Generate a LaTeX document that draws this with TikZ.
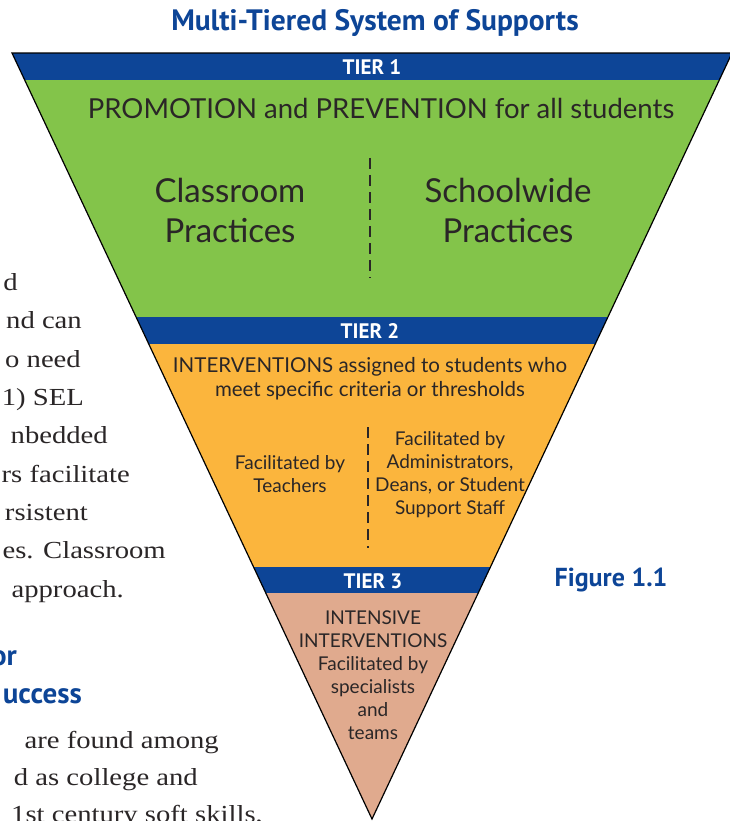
\documentclass[tikz,border=0pt]{standalone}
\usepackage{fontspec}
\newfontfamily\latof{Lato}
\newfontfamily\titlef{PT Sans}
\newfontfamily\bodyf[FakeStretch=1.17]{Liberation Serif}
\definecolor{tblue}{HTML}{0D4597}
\definecolor{tgreen}{HTML}{83C44A}
\definecolor{torange}{HTML}{FBB53D}
\definecolor{tsalmon}{HTML}{E0AA8E}
\definecolor{ttext}{HTML}{2A2627}
\begin{document}
\begin{tikzpicture}[x=1pt,y=-1pt,
  tierlab/.style={text=white,font=\titlef\bfseries\fontsize{21}{21}\selectfont,inner sep=0pt},
  intext/.style={text=ttext,align=center,inner sep=0pt},
  divider/.style={line width=1.4pt,ttext,dash pattern=on 11pt off 6pt},
  bodytxt/.style={text=ttext,font=\bodyf\fontsize{24.5}{24.5}\selectfont,anchor=base east,inner sep=0pt},
  headtxt/.style={text=tblue,font=\titlef\bfseries\fontsize{29}{29}\selectfont,anchor=base east,inner sep=0pt}]
\useasboundingbox (0,0) rectangle (730,821);
\coordinate (TL) at (12,53);
\coordinate (TR) at (732,53);
\coordinate (AP) at (372,819);
\begin{scope}
\clip (TL) -- (TR) -- (AP) -- cycle;
\fill[tblue] (0,53) rectangle (740,80);
\fill[tgreen] (0,80) rectangle (740,317);
\fill[tblue] (0,317) rectangle (740,344);
\fill[torange] (0,344) rectangle (740,567);
\fill[tblue] (0,567) rectangle (740,593);
\fill[tsalmon] (0,593) rectangle (740,821);
\end{scope}
\draw[line width=1.2pt,line join=miter] (TL) -- (TR) -- (AP) -- cycle;

\node[text=tblue,font=\titlef\bfseries\fontsize{29.5}{29.5}\selectfont,inner sep=0pt] (title) at (375,23) {Multi-Tiered System of Supports};

\node[tierlab] (t1) at (372,67) {TIER 1};
\node[tierlab] (t2) at (370,331) {TIER 2};
\node[tierlab] (t3) at (373,581) {TIER 3};

\node[intext,font=\latof\fontsize{27.5}{30}\selectfont] (promo) at (381,108) {PROMOTION and PREVENTION for all students};
\node[intext,font=\latof\fontsize{33}{40}\selectfont] (class) at (230,210) {Classroom\\Practices};
\node[intext,font=\latof\fontsize{33}{40}\selectfont] (school) at (508,210) {Schoolwide\\Practices};
\coordinate (d1a) at (370,158);
\coordinate (d1b) at (370,278);
\draw[divider] (d1a) -- (d1b);

\node[intext,font=\latof\fontsize{20.5}{24}\selectfont] (interv) at (370,379) {INTERVENTIONS assigned to students who\\meet specific criteria or thresholds};
\node[intext,font=\latof\fontsize{19}{23}\selectfont] (teach) at (290,474.5) {Facilitated by\\Teachers};
\node[intext,font=\latof\fontsize{19}{23}\selectfont] (admin) at (450,474.5) {Facilitated by\\Administrators,\\Deans, or Student\\Support Staff};
\coordinate (d2a) at (368,427);
\coordinate (d2b) at (368,548);
\draw[divider] (d2a) -- (d2b);

\node[intext,font=\latof\fontsize{19}{23}\selectfont] (intens) at (373,675) {INTENSIVE\\INTERVENTIONS\\Facilitated by\\specialists\\and\\teams};

\node[text=tblue,font=\titlef\bfseries\fontsize{26}{26}\selectfont,inner sep=0pt] (fig) at (611,580) {Figure 1.1};

\node[bodytxt] (b1) at (18,290) {d};
\node[bodytxt] (b2) at (82,328.5) {nd can};
\node[bodytxt] (b3) at (81,367) {o need};
\node[bodytxt] (b4) at (84,405) {1) SEL};
\node[bodytxt] (b5) at (108,443.5) {nbedded};
\node[bodytxt] (b6) at (130,482) {rs facilitate};
\node[bodytxt] (b7) at (88,520) {rsistent};
\node[bodytxt] (b8) at (166,558.5) {es. Classroom};
\node[bodytxt] (b9) at (124,597) {approach.};
\node[headtxt] (h1) at (17,665) {or};
\node[headtxt] (h2) at (82,703) {uccess};
\node[bodytxt] (b10) at (219,748) {are found among};
\node[bodytxt] (b11) at (198,785) {d as college and};
\node[bodytxt] (b12) at (263,822) {1st century soft skills,};
\end{tikzpicture}
\end{document}
